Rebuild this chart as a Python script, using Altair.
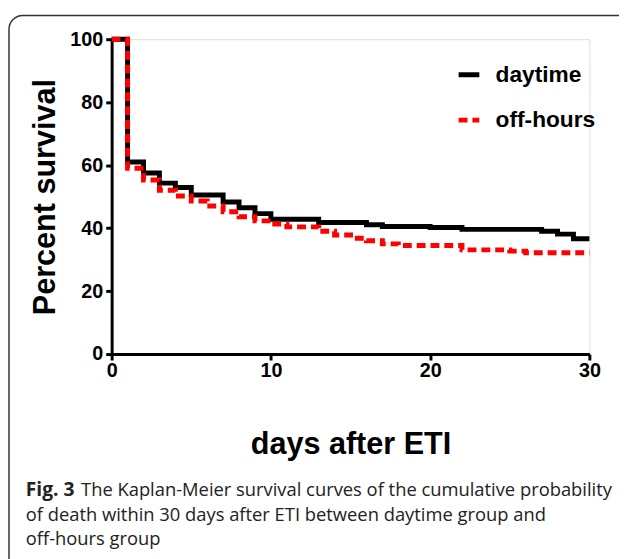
import altair as alt
import pandas as pd

# ---- data ----
series_names = ["daytime", "off-hours"]
day_days = [0, 1, 2, 3, 4, 5, 7, 8, 9, 10, 13, 16, 17, 20, 22, 27, 28, 29, 30]
day_surv = [100, 61, 57.5, 54.3, 52.9, 50.5, 48.3, 46.5, 44.6, 42.8, 41.8, 41.1,
            40.5, 40.2, 39.6, 39.0, 38.1, 36.6, 36.6]
off_days = [0, 1, 2, 3, 4, 5, 6, 7, 8, 9, 10, 11, 13, 14, 15, 16, 17, 18, 22, 25, 26, 30]
off_surv = [100, 59, 55.3, 52.0, 50.2, 48.6, 47.0, 45.2, 43.6, 42.3, 41.3, 40.4,
            39.0, 37.8, 36.8, 36.0, 35.0, 34.5, 33.1, 32.7, 32.2, 32.2]
x_ticks = [0, 10, 20, 30]
y_ticks = [0, 20, 40, 60, 80, 100]
caption_bold = "Fig. 3"
caption_line1 = "The Kaplan-Meier survival curves of the cumulative probability"
caption_rest = ["of death within 30 days after ETI between daytime group and",
                "off-hours group"]

df = pd.concat([
    pd.DataFrame({"day": day_days, "surv": day_surv, "group": series_names[0]}),
    pd.DataFrame({"day": off_days, "surv": off_surv, "group": series_names[1]}),
], ignore_index=True)

FONT = "Liberation Sans"
CAP_FONT = "Open Sans"

lines = alt.Chart(df).mark_line(interpolate="step-after", strokeWidth=5, strokeCap="butt").encode(
    x=alt.X("day:Q", scale=alt.Scale(domain=[0, 30], nice=False),
            axis=alt.Axis(values=x_ticks, title="days after ETI", grid=False,
                          labelFlush=False, labelFontSize=20, labelFont=FONT,
                          labelFontWeight="bold", labelColor="black", labelPadding=1,
                          titleFontSize=31, titleFont=FONT, titleFontWeight="bold",
                          titleColor="black", titlePadding=50,
                          domainColor="black", domainWidth=3, tickColor="black",
                          tickWidth=3, tickSize=6)),
    y=alt.Y("surv:Q", scale=alt.Scale(domain=[0, 100], nice=False),
            axis=alt.Axis(values=y_ticks, title="Percent survival", grid=False,
                          labelFlush=False, labelFontSize=20, labelFont=FONT,
                          labelFontWeight="bold", labelColor="black", labelPadding=3,
                          titleFontSize=31, titleFont=FONT, titleFontWeight="bold",
                          titleColor="black", titlePadding=9,
                          domainColor="black", domainWidth=3, tickColor="black",
                          tickWidth=3, tickSize=6)),
    color=alt.Color("group:N", scale=alt.Scale(domain=series_names, range=["#000000", "#ff0000"]),
                    title=None,
                    legend=alt.Legend(orient="none", legendX=349, legendY=23,
                                      symbolType="stroke", symbolSize=441,
                                      symbolStrokeWidth=5, labelFontSize=23,
                                      labelFont=FONT, labelFontWeight="bold",
                                      labelColor="black", labelOffset=14,
                                      rowPadding=21, padding=0)),
    strokeDash=alt.StrokeDash("group:N", scale=alt.Scale(domain=series_names, range=[[1, 0], [9, 5]]),
                              title=None),
    order=alt.Order("day:Q"),
)

frame = alt.Chart(pd.DataFrame({"k": [0]})).mark_rect(
    fillOpacity=0, stroke="#333333", strokeWidth=1.5, cornerRadius=14
).encode(x=alt.value(-104), x2=alt.value(540), y=alt.value(-24), y2=alt.value(560))

cap_df = pd.DataFrame({"k": [0]})
cap_bold = alt.Chart(cap_df).mark_text(
    text=caption_bold, font=CAP_FONT, fontSize=19.5, fontWeight="bold", align="left",
    baseline="alphabetic", color="#222222"
).encode(x=alt.value(-87), y=alt.value(463))
cap_l1 = alt.Chart(cap_df).mark_text(
    text=caption_line1, font=CAP_FONT, fontSize=18.6, align="left",
    baseline="alphabetic", color="#222222"
).encode(x=alt.value(-31), y=alt.value(463))
cap_rest = alt.Chart(cap_df).mark_text(
    text=caption_rest, font=CAP_FONT, fontSize=18.6, align="left",
    baseline="alphabetic", color="#222222", lineHeight=24.5
).encode(x=alt.value(-87), y=alt.value(488))

chart = alt.layer(frame, lines, cap_bold, cap_l1, cap_rest).properties(
    width=484, height=319,
    autosize=alt.AutoSizeParams(type="none"),
    padding={"left": 105, "top": 28, "right": 30, "bottom": 204},
).configure_view(stroke=None).configure(background="white")

chart.save("out.html", embed_options={"renderer": "svg", "actions": False})
